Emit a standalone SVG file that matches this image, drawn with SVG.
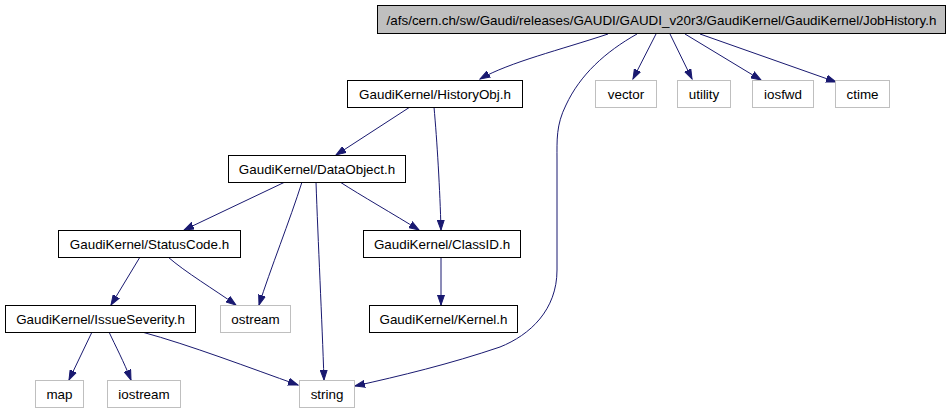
<svg xmlns="http://www.w3.org/2000/svg" width="952" height="410" viewBox="0 0 952 410">
<defs>
<style>
.n rect{fill:#ffffff;stroke:#000000;stroke-width:1}
.e rect{fill:#ffffff;stroke:#bfbfbf;stroke-width:1}
.r rect{fill:#bfbfbf;stroke:#000000;stroke-width:1}
text{font-family:"Liberation Sans",Arial,sans-serif;font-size:13.4px;fill:#000000;text-anchor:middle}
#edges path{fill:none;stroke:#191970;stroke-width:1;marker-end:url(#arr)}
</style>
<marker id="arr" markerUnits="userSpaceOnUse" markerWidth="11" markerHeight="8" refX="10" refY="4" orient="auto">
<path d="M0,0.5 L10,4 L0,7.5 z" fill="#191970" stroke="#191970" stroke-width="1"/>
</marker>
</defs>
<rect width="952" height="410" fill="#ffffff"/>
<g id="edges">
<path d="M608,34 C560,50 510,62 480,79"/>
<path d="M637,34 C605,52 580,75 566,105 C556,125 557,140 557,160 L557,270 C557,310 530,335 500,347 C450,364 400,376 355,386"/>
<path d="M656,34 L633,79"/>
<path d="M670,34 L692,79"/>
<path d="M685,34 L761,80"/>
<path d="M700,34 L836,82"/>
<path d="M410,107 L336,155"/>
<path d="M434,107 C437,140 440,190 441,230"/>
<path d="M285,182 L184,230"/>
<path d="M302,182 C290,220 270,270 259,305"/>
<path d="M316,182 C318,240 322,320 324,380"/>
<path d="M340,182 C360,195 395,215 419,230"/>
<path d="M140,257 L111,305"/>
<path d="M168,257 C185,272 215,290 236,305"/>
<path d="M441,257 L441,305"/>
<path d="M92,332 L69,380"/>
<path d="M109,332 C115,345 124,362 131,380"/>
<path d="M142,332 C190,345 250,368 298,385"/>
</g>
<g id="root" class="r"><rect x="377.5" y="5.5" width="568" height="28"/><text x="661.5" y="24.5">/afs/cern.ch/sw/Gaudi/releases/GAUDI/GAUDI_v20r3/GaudiKernel/GaudiKernel/JobHistory.h</text></g>
<g id="historyobj" class="n"><rect x="347.5" y="80.5" width="175" height="27"/><text x="435" y="99">GaudiKernel/HistoryObj.h</text></g>
<g id="vector" class="e"><rect x="595.5" y="80.5" width="61" height="27"/><text x="626" y="99">vector</text></g>
<g id="utility" class="e"><rect x="677.5" y="80.5" width="53" height="27"/><text x="704" y="99">utility</text></g>
<g id="iosfwd" class="e"><rect x="752.5" y="80.5" width="61" height="27"/><text x="783" y="99">iosfwd</text></g>
<g id="ctime" class="e"><rect x="835.5" y="80.5" width="54" height="27"/><text x="862.5" y="99">ctime</text></g>
<g id="dataobject" class="n"><rect x="228.5" y="155.5" width="177" height="27"/><text x="317" y="174">GaudiKernel/DataObject.h</text></g>
<g id="statuscode" class="n"><rect x="58.5" y="230.5" width="182" height="27"/><text x="149.5" y="249">GaudiKernel/StatusCode.h</text></g>
<g id="classid" class="n"><rect x="363.5" y="230.5" width="157" height="27"/><text x="442" y="249">GaudiKernel/ClassID.h</text></g>
<g id="issueseverity" class="n"><rect x="5.5" y="305.5" width="190" height="27"/><text x="100.5" y="324">GaudiKernel/IssueSeverity.h</text></g>
<g id="ostream" class="e"><rect x="220.5" y="305.5" width="70" height="27"/><text x="255.5" y="324">ostream</text></g>
<g id="kernel" class="n"><rect x="369.5" y="305.5" width="148" height="27"/><text x="443.5" y="324">GaudiKernel/Kernel.h</text></g>
<g id="map" class="e"><rect x="35.5" y="380.5" width="48" height="27"/><text x="59.5" y="399">map</text></g>
<g id="iostream" class="e"><rect x="107.5" y="380.5" width="73" height="27"/><text x="144" y="399">iostream</text></g>
<g id="string" class="e"><rect x="299.5" y="380.5" width="55" height="27"/><text x="327" y="399">string</text></g>
</svg>
